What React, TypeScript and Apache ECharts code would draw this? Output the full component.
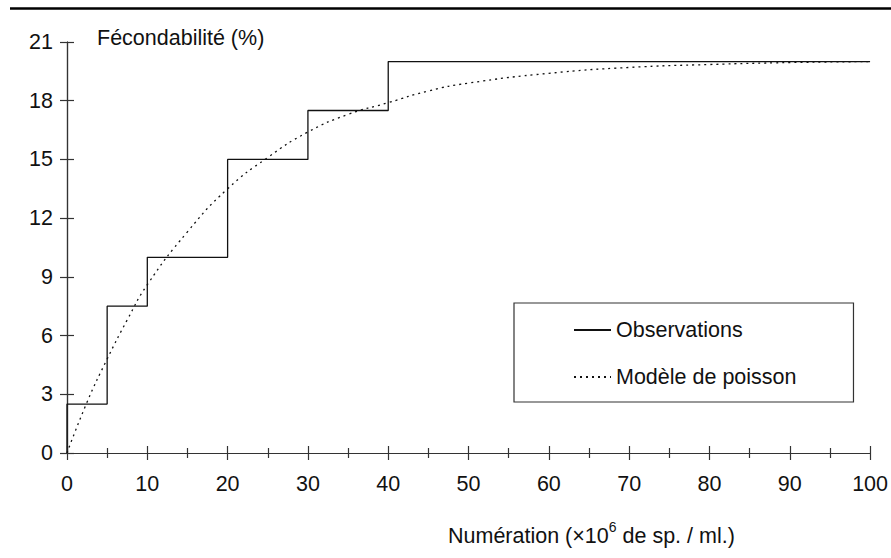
import React, { useEffect, useRef } from "react";
import * as echarts from "echarts";

const obsX = [0, 0, 5, 10, 20, 30, 40, 100];
const obsY = [0, 2.5, 7.5, 10, 15, 17.5, 20, 20];
const modelX = [0, 2.5, 5, 7.5, 10, 15, 20, 25, 30, 35, 40, 45, 50, 60, 70, 80, 90, 100];
const modelY = [0, 2.6, 4.8, 6.8, 8.6, 11.3, 13.5, 15.1, 16.4, 17.3, 17.9, 18.5, 18.9, 19.4, 19.7, 19.85, 19.95, 20];
const seriesNames = ["Observations", "Modèle de poisson"];
const yTitle = "Fécondabilité (%)";

const FONT = "'Liberation Sans', Arial, sans-serif";
const FS = 21.5;
const AX = "#333";

export default function App() {
  const ref = useRef<HTMLDivElement>(null);
  useEffect(() => {
    const chart = echarts.init(ref.current!, null, { renderer: "svg" });
    const baseX = (inside: boolean, show: boolean) => ({
      type: "value",
      min: 0,
      max: 100,
      interval: 10,
      position: "bottom",
      axisLine: { show: true, lineStyle: { color: AX, width: 1.2 } },
      axisTick: { show: true, inside, length: 7, lineStyle: { color: AX, width: 1.2 } },
      minorTick: { show: true, splitNumber: 2, length: 5, lineStyle: { color: AX, width: 1.2 } },
      axisLabel: { show, margin: 20, fontSize: FS, color: "#111", fontFamily: FONT },
      splitLine: { show: false },
      minorSplitLine: { show: false },
    });
    const baseY = (inside: boolean, show: boolean) => ({
      type: "value",
      min: 0,
      max: 21,
      interval: 3,
      position: "left",
      axisLine: { show: true, lineStyle: { color: AX, width: 1.2 } },
      axisTick: { show: true, inside, length: 7, lineStyle: { color: AX, width: 1.2 } },
      axisLabel: { show, margin: 14, fontSize: FS, color: "#111", fontFamily: FONT },
      splitLine: { show: false },
    });
    chart.setOption({
      animation: false,
      grid: { left: 67, right: 20, top: 42, bottom: 105, containLabel: false },
      xAxis: [baseX(false, true), baseX(true, false)],
      yAxis: [baseY(false, true), baseY(true, false)],
      legend: {
        orient: "vertical",
        left: 514,
        top: 303,
        borderColor: AX,
        borderWidth: 1.2,
        padding: [16, 57, 14, 59],
        itemGap: 25,
        itemWidth: 37,
        itemHeight: 14,
        itemStyle: { opacity: 0, borderWidth: 0 },
        textStyle: { fontSize: FS, color: "#111", fontFamily: FONT },
        data: seriesNames,
      },
      graphic: [
        { type: "line", shape: { x1: 10, y1: 8.5, x2: 891, y2: 8.5 }, style: { stroke: "#000", lineWidth: 2.5 } },
        {
          type: "text",
          left: 97,
          top: 27,
          style: { text: yTitle, fontSize: FS, fill: "#111", fontFamily: FONT },
        },
        {
          type: "text",
          left: 448,
          top: 520,
          style: {
            text: "{a|Numération (×10}{s|6}{a| de sp. / ml.)}",
            fontFamily: FONT,
            rich: {
              a: { fontSize: FS, fill: "#111", fontFamily: FONT, verticalAlign: "bottom", lineHeight: 27 },
              s: { fontSize: 14, fill: "#111", fontFamily: FONT, verticalAlign: "top", lineHeight: 27 },
            },
          },
        },
      ],
      series: [
        {
          name: seriesNames[0],
          type: "line",
          step: "end",
          symbol: "none",
          data: obsX.map((x, i) => [x, obsY[i]]),
          lineStyle: { color: "#111", width: 1.3, type: "solid" },
          itemStyle: { color: "#111" },
        },
        {
          name: seriesNames[1],
          type: "line",
          smooth: true,
          symbol: "none",
          data: modelX.map((x, i) => [x, modelY[i]]),
          lineStyle: { color: "#111", width: 1.3, type: [2, 4] },
          itemStyle: { color: "#111" },
        },
      ],
    });
    return () => chart.dispose();
  }, []);
  return <div ref={ref} style={{ width: 891, height: 558, position: "absolute", left: 0, top: 0 }} />;
}
